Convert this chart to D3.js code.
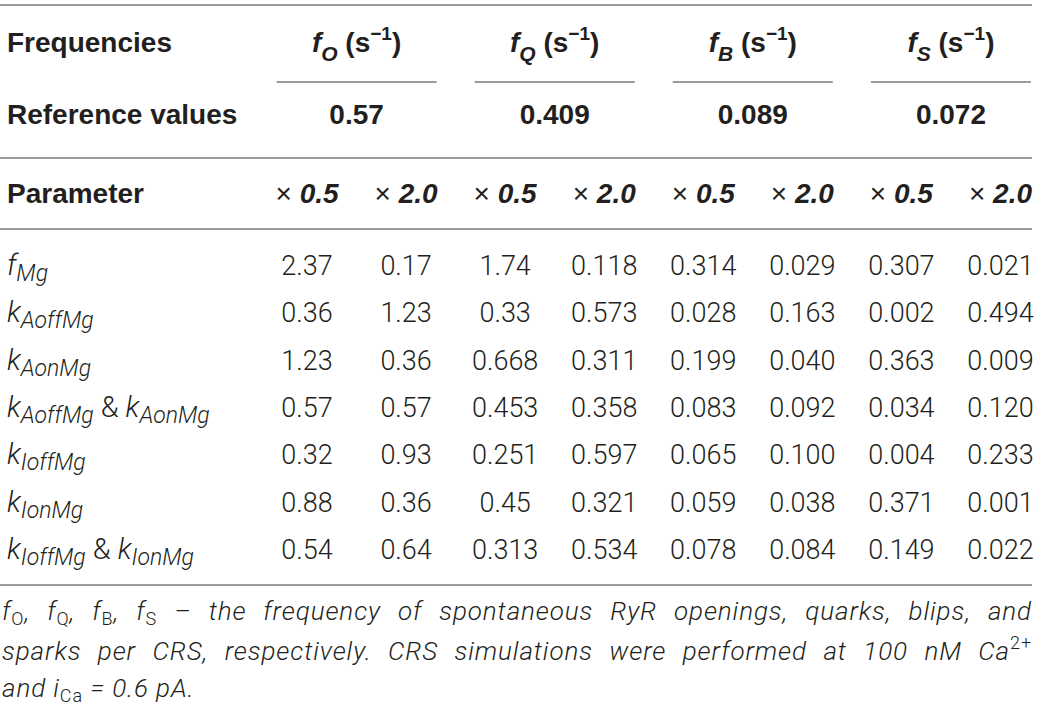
<!DOCTYPE html>
<html lang="en">
<head>
<meta charset="UTF-8">
<title>RyR frequencies table</title>
<script src="https://cdn.jsdelivr.net/npm/d3@7"></script>
<style>
  body { margin: 0; background: #fff; }
  svg text { white-space: pre; fill: #231f20; }
</style>
</head>
<body>
<div id="chart"></div>
<script>
// --- table data ---
const groups = ["O", "Q", "B", "S"];
const refValues = ["0.57", "0.409", "0.089", "0.072"];
const factors = ["0.5", "2.0"];

// parameter labels: [text, "main" | "sub" | "plain"]
const params = [
  [["f", "main"], ["Mg", "sub"]],
  [["k", "main"], ["AoffMg", "sub"]],
  [["k", "main"], ["AonMg", "sub"]],
  [["k", "main"], ["AoffMg", "sub"], [" & ", "plain"], ["k", "main"], ["AonMg", "sub"]],
  [["k", "main"], ["IoffMg", "sub"]],
  [["k", "main"], ["IonMg", "sub"]],
  [["k", "main"], ["IoffMg", "sub"], [" & ", "plain"], ["k", "main"], ["IonMg", "sub"]]
];

const values = [
  ["2.37", "0.17", "1.74", "0.118", "0.314", "0.029", "0.307", "0.021"],
  ["0.36", "1.23", "0.33", "0.573", "0.028", "0.163", "0.002", "0.494"],
  ["1.23", "0.36", "0.668", "0.311", "0.199", "0.040", "0.363", "0.009"],
  ["0.57", "0.57", "0.453", "0.358", "0.083", "0.092", "0.034", "0.120"],
  ["0.32", "0.93", "0.251", "0.597", "0.065", "0.100", "0.004", "0.233"],
  ["0.88", "0.36", "0.45", "0.321", "0.059", "0.038", "0.371", "0.001"],
  ["0.54", "0.64", "0.313", "0.534", "0.078", "0.084", "0.149", "0.022"]
];

// caption lines, same markup as labels
const caption = [
  [["f", "it"], ["O", "sub"], [", ", "it"], ["f", "it"], ["Q", "sub"], [", ", "it"], ["f", "it"], ["B", "sub"], [", ", "it"], ["f", "it"], ["S", "sub"],
   [" \u2013 the frequency of spontaneous RyR openings, quarks, blips, and", "it"]],
  [["sparks per CRS, respectively. CRS simulations were performed at 100 nM Ca", "it"], ["2+", "sup"]],
  [["and i", "it"], ["Ca", "sub"], [" = 0.6 pA.", "it"]]
];

const W = 1041, H = 708;
const tableRight = 1032;
const BOLD = "'Liberation Sans', Arial, Helvetica, sans-serif";
const LIGHT = "'Helvetica Neue', Roboto, 'Liberation Sans', sans-serif";

const svg = d3.select("#chart").append("svg")
  .attr("width", W).attr("height", H)
  .attr("viewBox", [0, 0, W, H]);

const colX = d3.scaleBand().domain(d3.range(8)).range([257.5, 1050]);
const cx = i => colX(i) + colX.bandwidth() / 2;
const gx = g => colX(2 * g) + colX.bandwidth();
const rowY = d3.scalePoint().domain(d3.range(params.length)).range([275, 559]);

// text with tspans, shift = px down from baseline
function rich(parent, x, y, segs, opt) {
  const t = parent.append("text")
    .attr("x", x).attr("y", y)
    .attr("text-anchor", opt.anchor || "start")
    .attr("font-family", opt.family)
    .attr("font-size", opt.size);
  let cur = 0;
  segs.forEach(s => {
    const sh = s.shift || 0;
    t.append("tspan")
      .attr("dy", sh - cur)
      .attr("font-size", s.size || opt.size)
      .attr("font-weight", s.weight || opt.weight || 400)
      .attr("font-style", s.style || "normal")
      .text(s.t);
    cur = sh;
  });
  return t;
}

// --- rules ---
const rules = svg.append("g").attr("stroke", "#7a7a7a").attr("stroke-width", 1.3);
[5, 158, 229, 585].forEach(y => {
  rules.append("line").attr("x1", 0).attr("x2", tableRight).attr("y1", y).attr("y2", y);
});
groups.forEach((g, i) => {
  rules.append("line")
    .attr("x1", gx(i) - 80).attr("x2", Math.min(gx(i) + 80, tableRight))
    .attr("y1", 82).attr("y2", 82);
});

// --- header ---
const head = svg.append("g");
const hOpt = { family: BOLD, size: 28, weight: 700 };
rich(head, 7, 52, [{ t: "Frequencies" }], hOpt);
rich(head, 7, 124, [{ t: "Reference values" }], hOpt);
rich(head, 7, 203, [{ t: "Parameter" }], hOpt);

groups.forEach((g, i) => {
  rich(head, gx(i), 52, [
    { t: "f", style: "italic" },
    { t: g, style: "italic", size: 21, shift: 9 },
    { t: " (s" },
    { t: "\u22121", size: 19, shift: -12 },
    { t: ")" }
  ], Object.assign({ anchor: "middle" }, hOpt));
  rich(head, gx(i), 124, [{ t: refValues[i] }], Object.assign({ anchor: "middle" }, hOpt));
});

d3.range(8).forEach(c => {
  rich(head, cx(c), 203, [
    { t: "\u00d7 ", weight: 400 },
    { t: factors[c % 2], style: "italic" }
  ], Object.assign({ anchor: "middle" }, hOpt));
});

// --- body ---
const body = svg.append("g");
const bOpt = { family: LIGHT, size: 27, weight: 300 };
params.forEach((p, r) => {
  const segs = p.map(([t, role]) => role === "sub"
    ? { t, style: "italic", size: 23, shift: 6 }
    : { t, style: role === "main" ? "italic" : "normal", size: 29 });
  rich(body, 7, rowY(r), segs, bOpt);
  values[r].forEach((v, c) => {
    rich(body, cx(c), rowY(r), [{ t: v }], Object.assign({ anchor: "middle" }, bOpt));
  });
});

// --- caption (justified lines 1 and 2) ---
const cap = svg.append("g").attr("letter-spacing", 0.9);
const cOpt = { family: LIGHT, size: 26, weight: 300 };
const capY = [620, 660, 697];
caption.forEach((line, k) => {
  const segs = line.map(([t, role]) => {
    if (role === "sub") return { t, size: 18, shift: 5 };
    if (role === "sup") return { t, size: 18, shift: -11 };
    return { t, style: "italic" };
  });
  const t = rich(cap, 2, capY[k], segs, cOpt);
  if (k < 2) {
    const full = line.map(d => d[0]).join("");
    const spaces = (full.match(/ /g) || []).length;
    const natural = t.node().getComputedTextLength();
    const ws = (tableRight - 2 - natural) / spaces;
    t.attr("word-spacing", ws);
  }
});
</script>
</body>
</html>
